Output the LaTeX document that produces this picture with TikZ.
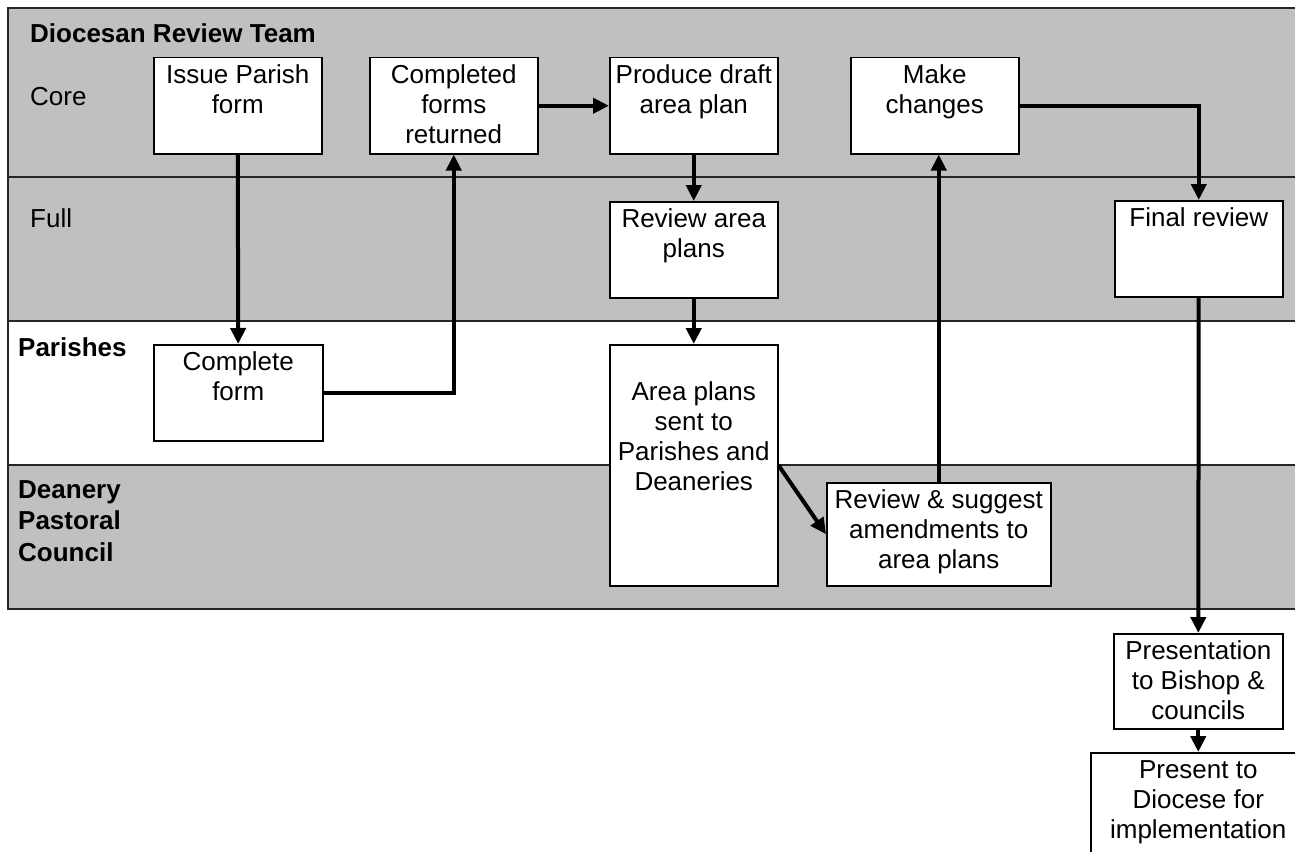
\documentclass[tikz,border=0pt]{standalone}
\usepackage{fontspec}
\setmainfont{Liberation Sans}
\usetikzlibrary{arrows.meta}
\definecolor{lanegray}{HTML}{C0C0C0}
\tikzset{
  >={Triangle[length=16pt, width=15pt]},
  lane/.style={draw=black!85, line width=1.5pt},
  stepbox/.style={draw, fill=white, line width=1.5pt, inner sep=0pt, anchor=north west},
  flow/.style={->, line width=4pt},
  lanelabel/.style={inner sep=0pt, anchor=base west},
}
% box text: fixed size, lines start at the top
\newcommand{\steptext}[3]{\parbox[c][#2][t]{#1}{\centering\rule{0pt}{26pt}#3}}

\begin{document}
\begin{tikzpicture}[x=1pt, y=-1pt, font=\fontsize{26}{30}\selectfont]
  \useasboundingbox (0,0) rectangle (1295,851);
  % swim lanes
  \filldraw[lane, fill=lanegray] (8,8) rectangle (1310,177);
  \filldraw[lane, fill=lanegray] (8,177) rectangle (1310,321);
  \filldraw[lane, fill=white] (8,321) rectangle (1310,465);
  \filldraw[lane, fill=lanegray] (8,465) rectangle (1310,609);

  \node[lanelabel] (team) at (30,43) {\textbf{Diocesan Review Team}};
  \node[lanelabel] (core) at (30,105) {Core};
  \node[lanelabel] (full) at (30,227) {Full};
  \node[lanelabel] (parishes) at (18,356) {\textbf{Parishes}};
  \node[lanelabel] (deanery) at (18,498) {\parbox[t]{150pt}{\bfseries\baselineskip=31.5pt Deanery\\Pastoral\\Council}};

  % steps
  \node[stepbox] (issue) at (153,57) {\steptext{168pt}{96pt}{Issue Parish\\form}};
  \node[stepbox] (returned) at (369,57) {\steptext{168pt}{96pt}{Completed\\forms\\returned}};
  \node[stepbox] (draft) at (609,57) {\steptext{168pt}{96pt}{Produce draft\\area plan}};
  \node[stepbox] (changes) at (850,57) {\steptext{168pt}{96pt}{Make\\changes}};
  \node[stepbox] (reviewplans) at (609,201) {\steptext{168pt}{96pt}{Review area\\plans}};
  \node[stepbox] (final) at (1114,200) {\steptext{168pt}{96pt}{Final review}};
  \node[stepbox] (complete) at (153,344) {\steptext{169pt}{96pt}{Complete\\form}};
  \node[stepbox] (sent) at (609,344) {\steptext{168pt}{241pt}{\\Area plans\\sent to\\Parishes and\\Deaneries}};
  \node[stepbox] (suggest) at (826,482) {\steptext{224pt}{103pt}{Review \& suggest\\amendments to\\area plans}};
  \node[stepbox] (bishop) at (1113,633) {\steptext{169pt}{95pt}{Presentation\\to Bishop \&\\councils}};
  \node[stepbox] (diocese) at (1090,752) {\steptext{215pt}{110pt}{Present to\\Diocese for\\implementation}};

  % flow
  \draw[flow] (issue) -- (complete);
  \draw[flow] (complete.east) -| (returned.south);
  \draw[flow] (returned) -- (draft);
  \draw[flow] (draft) -- (reviewplans);
  \draw[flow] (reviewplans) -- (sent);
  \draw[flow] (sent.east) -- (suggest.west);
  \draw[flow] (suggest.north) -- (suggest.north |- changes.south);
  \draw[flow] (changes.east) -| (final.north);
  \draw[flow] (final) -- (bishop);
  \draw[flow] (bishop) -- (diocese);
\end{tikzpicture}
\end{document}
